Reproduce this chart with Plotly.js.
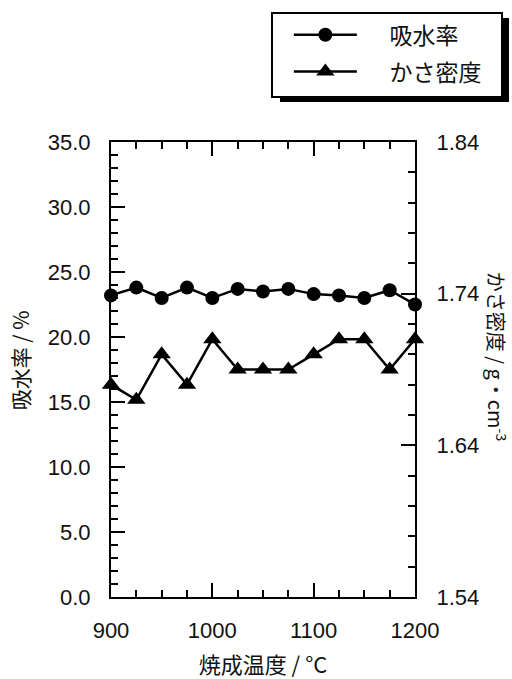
<!DOCTYPE html>
<html>
<head>
<meta charset="utf-8">
<script src="https://cdn.plot.ly/plotly-3.0.1.min.js"></script>
<style>html,body{margin:0;padding:0;background:#fff;}#chart{width:512px;height:679px;}</style>
</head>
<body>
<div id="chart"></div>
<script>
// 焼成温度 (°C)
const temperatures = [900, 925, 950, 975, 1000, 1025, 1050, 1075, 1100, 1125, 1150, 1175, 1200];
// 吸水率 (%) – left axis
const waterAbsorption = [23.2, 23.8, 23.0, 23.8, 23.0, 23.7, 23.5, 23.7, 23.3, 23.2, 23.0, 23.6, 22.5];
// かさ密度 (g·cm^-3) – right axis
const bulkDensity = [1.68, 1.67, 1.70, 1.68, 1.71, 1.69, 1.69, 1.69, 1.70, 1.71, 1.71, 1.69, 1.71];

const seriesNames = ["吸水率", "かさ密度"];
const leftTicks = [0, 5, 10, 15, 20, 25, 30, 35];
const rightTicks = [1.54, 1.64, 1.74, 1.84];
const xTicks = [900, 1000, 1100, 1200];
const xTitle = "焼成温度 / °C";
const yTitle = "吸水率 / %";
const y2Title = "かさ密度 / g・cm<sup>-3</sup>";

const FONT = "Liberation Sans, Arial, Noto Sans CJK JP, sans-serif";
const CJK = "Noto Sans CJK JP, Liberation Sans, sans-serif";
const LEGEND_PAD = "\u2003\u2009";

const traces = [
  {
    x: temperatures, y: waterAbsorption, name: LEGEND_PAD + seriesNames[0],
    type: "scatter", mode: "lines+markers", yaxis: "y", cliponaxis: false,
    legendgroup: "a",
    line: {color: "#000", width: 2.5},
    marker: {symbol: "circle", size: 14, color: "#000"}
  },
  {
    x: temperatures, y: bulkDensity, name: LEGEND_PAD + seriesNames[1],
    type: "scatter", mode: "lines+markers", yaxis: "y2", cliponaxis: false,
    legendgroup: "b",
    line: {color: "#000", width: 2.5},
    marker: {symbol: "triangle-up", size: 16, color: "#000"}
  }
];

const axisCommon = {
  showline: true, linecolor: "#000", linewidth: 2,
  showgrid: false, zeroline: false,
  ticks: "inside", ticklen: 14, tickwidth: 2, tickcolor: "#000",
  tickfont: {family: FONT, size: 22, color: "#111"}
};

const layout = {
  width: 512, height: 679,
  margin: {l: 111, r: 97, t: 142, b: 82, pad: 0},
  paper_bgcolor: "#fff", plot_bgcolor: "#fff",
  showlegend: true,
  xaxis: Object.assign({}, axisCommon, {
    range: [900, 1200], tickmode: "array", tickvals: xTicks,
    mirror: "ticks", ticklabelstandoff: 13,
    minor: {tick0: 900, dtick: 25, ticks: "inside", ticklen: 7, tickwidth: 2, tickcolor: "#000"},
    title: {text: xTitle, font: {family: CJK, size: 22, color: "#111"}, standoff: 17}
  }),
  yaxis: Object.assign({}, axisCommon, {
    range: [0, 35], tickmode: "array", tickvals: leftTicks, tickformat: ".1f",
    ticklabelstandoff: 14,
    minor: {tick0: 0, dtick: 1, ticks: "inside", ticklen: 7, tickwidth: 2, tickcolor: "#000"}
  }),
  yaxis2: Object.assign({}, axisCommon, {
    overlaying: "y", side: "right", anchor: "x",
    range: [1.54, 1.84], tickmode: "array", tickvals: rightTicks, tickformat: ".2f",
    ticklabelstandoff: 15,
    minor: {tick0: 1.54, dtick: 0.02, ticks: "inside", ticklen: 7, tickwidth: 2, tickcolor: "#000"}
  }),
  legend: {
    x: 0.585, xanchor: "left", y: 1.283, yanchor: "top",
    bgcolor: "rgba(0,0,0,0)", borderwidth: 0,
    font: {family: CJK, size: 23, color: "#111"},
    itemwidth: 63, traceorder: "grouped", tracegroupgap: 4
  },
  shapes: [
    {type: "rect", xref: "paper", yref: "paper", xsizemode: "pixel", ysizemode: "pixel",
     xanchor: 1, yanchor: 1, x0: -135, x1: 94, y0: 40, y1: 124,
     fillcolor: "#000", line: {width: 0}, layer: "above"},
    {type: "rect", xref: "paper", yref: "paper", xsizemode: "pixel", ysizemode: "pixel",
     xanchor: 1, yanchor: 1, x0: -143, x1: 87, y0: 45, y1: 129,
     fillcolor: "#fff", line: {color: "#000", width: 2}, layer: "above"}
  ],
  annotations: [
    {text: yTitle, textangle: -90, showarrow: false,
     xref: "paper", yref: "paper", x: -0.298, y: 0.521, xanchor: "center", yanchor: "middle",
     font: {family: CJK, size: 21, color: "#111"}},
    {text: y2Title, textangle: 90, showarrow: false,
     xref: "paper", yref: "paper", x: 1.27, y: 0.53, xanchor: "center", yanchor: "middle",
     font: {family: CJK, size: 20, color: "#111"}}
  ]
};

Plotly.newPlot("chart", traces, layout, {displayModeBar: false, staticPlot: true});
</script>
</body>
</html>
